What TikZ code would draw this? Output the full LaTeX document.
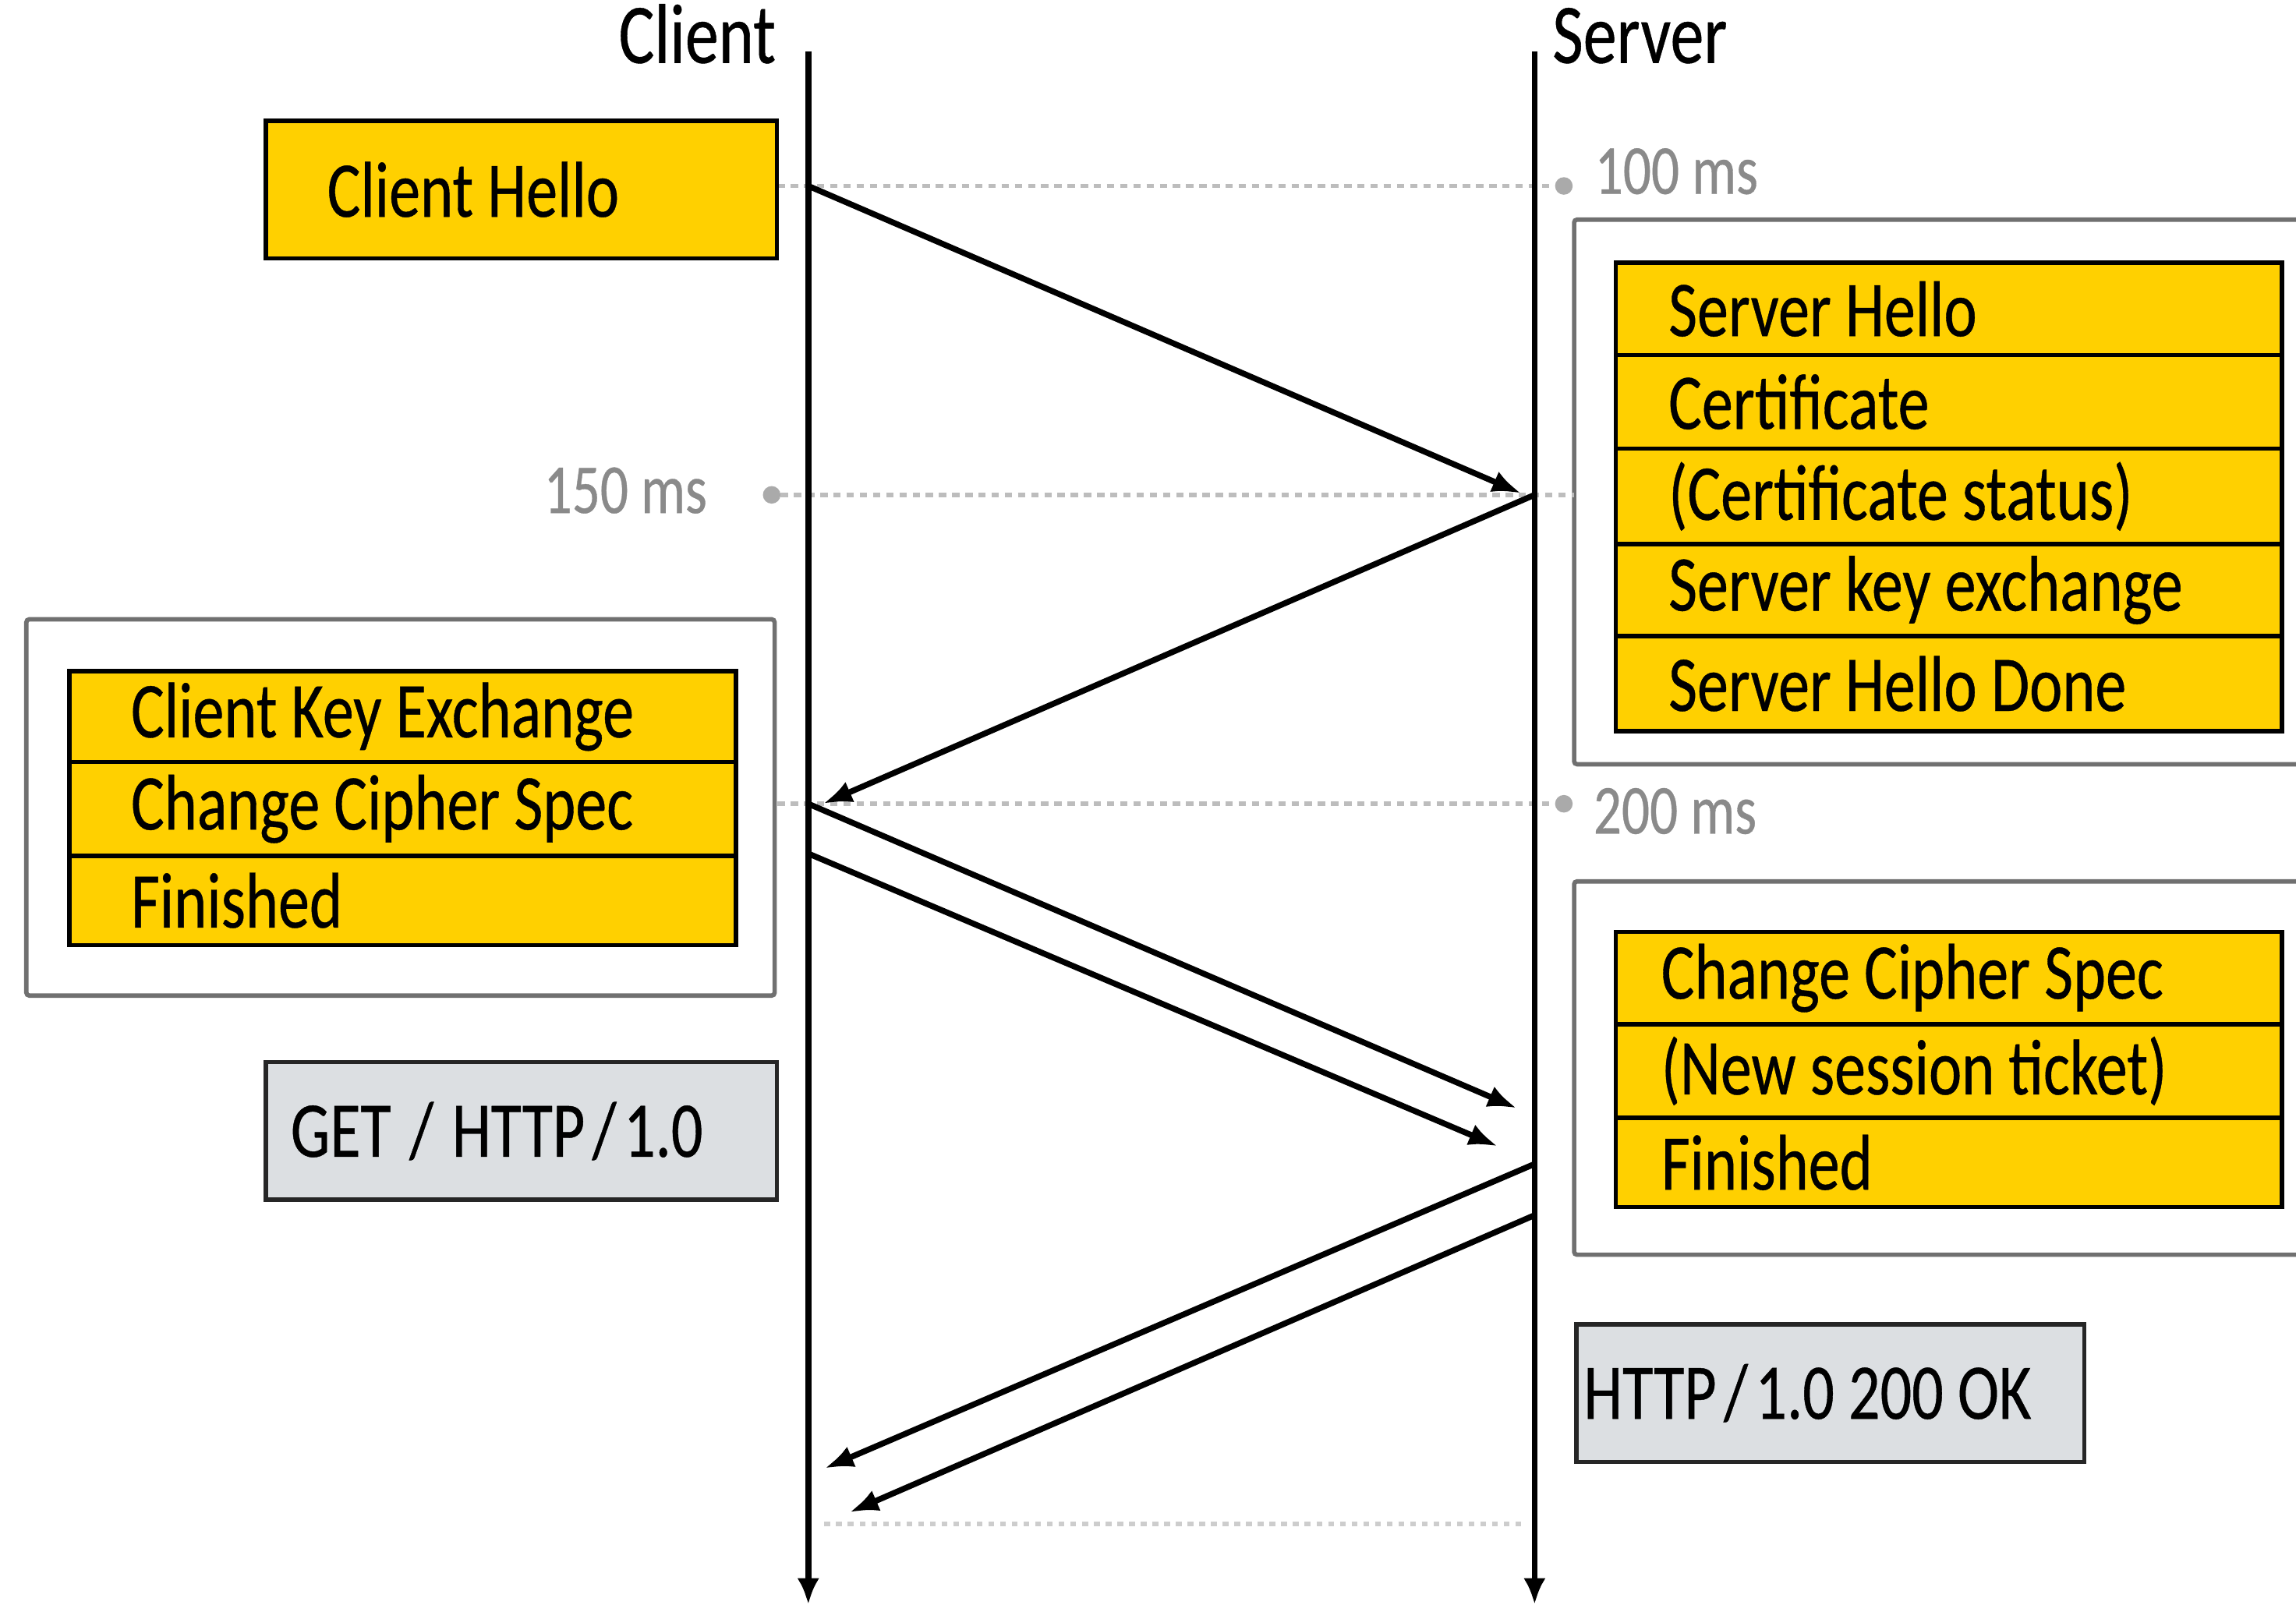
\documentclass[tikz,border=0pt]{standalone}
\usepackage{fontspec}
\setmainfont[FakeStretch=0.79,FakeBold=0.4]{Carlito}
\usetikzlibrary{arrows.meta}
\definecolor{tlsyellow}{HTML}{FFD000}
\definecolor{httpgray}{HTML}{DCDFE2}
\definecolor{groupline}{HTML}{707070}
\definecolor{tickgray}{HTML}{BDBDBD}
\definecolor{dotgray}{HTML}{AAAAAA}
\definecolor{labelgray}{HTML}{8A8A8A}
% left-aligned label of fixed width inside a record box
\newcommand{\rowlabel}[2]{\makebox[#1][l]{#2}}
% slash with the wider side bearings of the HTTP labels
\newcommand{\wslash}{\kern5pt/\kern5pt}
\begin{document}
\begin{tikzpicture}[x=1pt,y=-1pt,
  lifeline/.style={line width=4pt, -{Latex[length=18pt,width=15pt]}},
  msgarrow/.style={line width=4pt, -{Latex[length=20pt,width=15pt]}},
  recbox/.style={draw=black, line width=3pt, fill=tlsyellow, anchor=north west,
    inner ysep=0pt, minimum height=#1, font=\fontsize{54}{60}\selectfont},
  groupbox/.style={draw=groupline, line width=3pt, rounded corners=2pt, fill=white},
  httpbox/.style={draw=black!85, line width=3pt, fill=httpgray, anchor=north west,
    inner ysep=0pt, minimum height=94pt, font=\fontsize{54}{60}\selectfont},
  timeline/.style={draw=tickgray, line width=3pt, dash pattern=on 5pt off 4pt},
  tickdot/.style={circle, fill=dotgray, inner sep=0pt, minimum size=12pt},
  mslabel/.style={text=labelgray, font=\fontsize{48}{54}\selectfont, inner sep=0pt},
  headlabel/.style={font=\fontsize{58}{64}\selectfont, inner sep=0pt}]
\useasboundingbox (0,0) rectangle (1568,1096);
\clip (0,0) rectangle (1568,1096);
\fill[white] (0,0) rectangle (1568,1096);

% group frames
\draw[groupbox] (1075,150) rectangle (1600,522);
\draw[groupbox] (18,423) rectangle (529,680);
\draw[groupbox] (1075,602) rectangle (1600,857);

% timing guides
\node[tickdot] (d100) at (1068,127) {};
\node[tickdot] (d150) at (527,338) {};
\node[tickdot] (d200) at (1068,549) {};
\coordinate (g100) at (531,127);
\coordinate (g150) at (1075,338);
\coordinate (g200) at (531,549);
\draw[timeline] (g100) -- (d100);
\draw[timeline] (d150) -- (g150);
\draw[timeline] (g200) -- (d200);
\coordinate (gendl) at (563,1041);
\coordinate (gendr) at (1040,1041);
\draw[draw=tickgray!75, line width=3pt, dash pattern=on 4pt off 4pt] (gendl) -- (gendr);

\node[mslabel, anchor=west] (t100) at (1089,117) {100 ms};
\node[mslabel, anchor=east] (t150) at (483,335) {150 ms};
\node[mslabel, anchor=west] (t200) at (1088,554) {200 ms};

% client side records
\node[recbox=94pt, inner xsep=42pt] (chello) at (180,81) {\rowlabel{265pt}{Client Hello}};
\node[recbox=62pt, inner xsep=42pt] (ckx) at (46,457) {\rowlabel{371pt}{Client Key Exchange}};
\node[recbox=64pt, inner xsep=42pt] (cccs) at (46,519) {\rowlabel{371pt}{Change Cipher Spec}};
\node[recbox=61pt, inner xsep=42pt] (cfin) at (46,583) {\rowlabel{371pt}{Finished}};
\node[httpbox, inner xsep=17pt] (get) at (180,724) {\rowlabel{315pt}{GET \kern3pt/\kern3pt{} HTTP\wslash 1.0}};

% server side records
\node[recbox=63pt, inner xsep=36pt] (shello) at (1102,178) {\rowlabel{383pt}{Server Hello}};
\node[recbox=64pt, inner xsep=36pt] (scert) at (1102,241) {\rowlabel{383pt}{Certificate}};
\node[recbox=65pt, inner xsep=36pt] (sstat) at (1102,305) {\rowlabel{383pt}{(Certificate status)}};
\node[recbox=63pt, inner xsep=36pt] (skx) at (1102,370) {\rowlabel{383pt}{Server key exchange}};
\node[recbox=65pt, inner xsep=36pt] (sdone) at (1102,433) {\rowlabel{383pt}{Server Hello Done}};
\node[recbox=63pt, inner xsep=31pt] (sccs) at (1102,635) {\rowlabel{393pt}{Change Cipher Spec}};
\node[recbox=64pt, inner xsep=31pt] (sticket) at (1102,698) {\rowlabel{393pt}{(New session ticket)}};
\node[recbox=61pt, inner xsep=31pt] (sfin) at (1102,762) {\rowlabel{393pt}{Finished}};
\node[httpbox, inner xsep=5pt] (ok) at (1075,903) {\rowlabel{337pt}{HTTP\wslash 1.0 200 OK}};

% lifelines
\node[headlabel, anchor=base east] (client) at (530,43) {Client};
\node[headlabel, anchor=base west] (server) at (1060,43) {Server};
\coordinate (ctop) at (552,35);
\coordinate (cbot) at (552,1096);
\coordinate (stop) at (1048,35);
\coordinate (sbot) at (1048,1096);
\draw[lifeline] (ctop) -- (cbot);
\draw[lifeline] (stop) -- (sbot);

% messages
\coordinate (m1a) at (552,127);   \coordinate (m1b) at (1039,337);
\coordinate (m2a) at (1048,338);  \coordinate (m2b) at (562,549);
\coordinate (m3a) at (552,549);   \coordinate (m3b) at (1036,757);
\coordinate (m4a) at (552,583);   \coordinate (m4b) at (1023,783);
\coordinate (m5a) at (1048,795);  \coordinate (m5b) at (563,1003);
\coordinate (m6a) at (1048,830);  \coordinate (m6b) at (580,1033);
\draw[msgarrow] (m1a) -- (m1b);
\draw[msgarrow] (m2a) -- (m2b);
\draw[msgarrow] (m3a) -- (m3b);
\draw[msgarrow] (m4a) -- (m4b);
\draw[msgarrow] (m5a) -- (m5b);
\draw[msgarrow] (m6a) -- (m6b);
\end{tikzpicture}
\end{document}
